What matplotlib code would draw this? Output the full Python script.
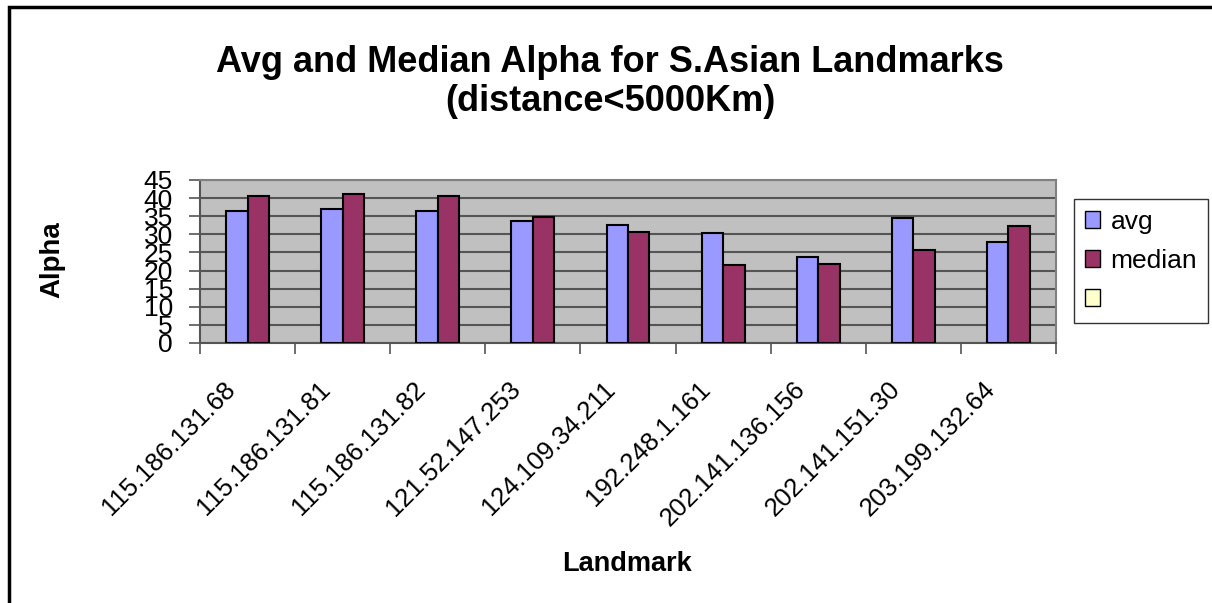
import numpy as np
import matplotlib.pyplot as plt
from matplotlib.patches import Patch, Rectangle
from matplotlib.transforms import ScaledTranslation

plt.rcParams['font.family'] = ['Liberation Sans', 'DejaVu Sans']

# landmarks and alpha values
landmarks = ['115.186.131.68', '115.186.131.81', '115.186.131.82',
             '121.52.147.253', '124.109.34.211', '192.248.1.161',
             '202.141.136.156', '202.141.151.30', '203.199.132.64']
avg = [36.5, 37.0, 36.5, 33.6, 32.7, 30.3, 23.7, 34.6, 28.0]
median = [40.7, 41.2, 40.7, 34.7, 30.7, 21.4, 21.8, 25.6, 32.2]

c_avg = '#9999FF'
c_med = '#993366'
c_empty = '#FFFFCC'

fig = plt.figure(figsize=(12.12, 6.03), dpi=100)
ax = fig.add_axes([0.165, 0.4312, 0.7063, 0.2703])
ax.set_facecolor('#C0C0C0')

x = np.arange(len(landmarks))
w = 0.226
ax.bar(x - w/2, avg, w, color=c_avg, edgecolor='black', linewidth=1.5, zorder=3)
ax.bar(x + w/2, median, w, color=c_med, edgecolor='black', linewidth=1.5, zorder=3)

ax.set_xlim(-0.5, len(landmarks) - 0.5)
ax.set_ylim(0, 45)
ax.set_yticks(np.arange(0, 46, 5))
ax.yaxis.grid(True, color='#555555', linewidth=1.5, zorder=1)
ax.set_axisbelow(True)

# ticks between the groups
ax.set_xticks(np.arange(-0.5, len(landmarks), 1.0))
ax.set_xticklabels([])
ax.tick_params(axis='x', length=8, width=1.2, color='#555555')
ax.tick_params(axis='y', length=8, width=1.2, color='#555555', labelsize=19, pad=11.5)

# category names, rotated, ending just left of each group centre
shift = ScaledTranslation(-0.25, -0.34, fig.dpi_scale_trans)
for xi, name in zip(x, landmarks):
    ax.text(xi, 0, name, transform=ax.get_xaxis_transform() + shift,
            rotation=45, rotation_mode='anchor', ha='right', va='top',
            fontsize=18.5)

for s in ax.spines.values():
    s.set_color('#808080')
    s.set_linewidth(1.5)
ax.spines['left'].set_color('#555555')
ax.spines['bottom'].set_color('#555555')

fig.text(52/1212, 1 - 260/603, 'Alpha', rotation=90, ha='center', va='center',
         fontsize=20, fontweight='bold')
fig.text(627/1212, 1 - 564/603, 'Landmark', ha='center', va='center',
         fontsize=19.5, fontweight='bold')

fig.text(610/1212, 1 - 82/603,
         'Avg and Median Alpha for S.Asian Landmarks\n(distance<5000Km)',
         ha='center', va='center', fontsize=26, fontweight='bold',
         linespacing=1.15)

handles = [Patch(facecolor=c_avg, edgecolor='black'),
           Patch(facecolor=c_med, edgecolor='black'),
           Patch(facecolor=c_empty, edgecolor='black')]
leg = fig.legend(handles, ['avg', 'median', ''], loc='upper left',
                 bbox_to_anchor=(1074/1212, 1 - 199/603), borderaxespad=0,
                 fontsize=19, frameon=True, fancybox=False, edgecolor='black',
                 handlelength=0.6, handleheight=0.6, handletextpad=0.38,
                 labelspacing=0.58, borderpad=0.4)
leg.get_frame().set_linewidth(1.0)

# outer chart border
fig.add_artist(Rectangle((9/1212, -0.05), 1.2, 1 - 7/603 + 0.05,
                         transform=fig.transFigure, fill=False,
                         edgecolor='black', linewidth=2.5))

fig.savefig('out.png', dpi=100)
